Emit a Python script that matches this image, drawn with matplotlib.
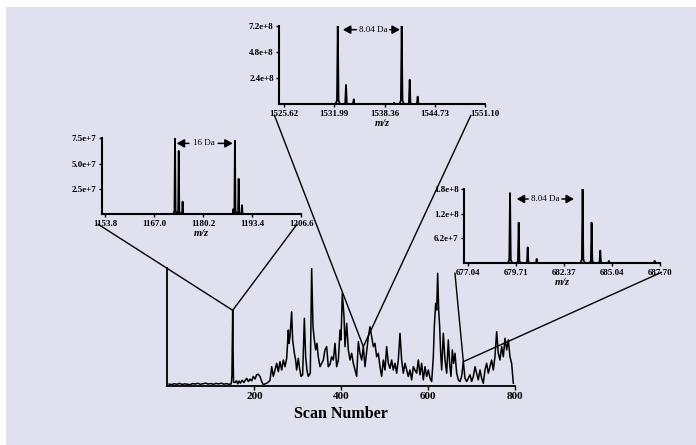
import numpy as np
import matplotlib
matplotlib.use('Agg')
import matplotlib.pyplot as plt
from matplotlib.patches import ConnectionPatch, Rectangle

plt.rcParams['font.family'] = ['Liberation Serif', 'DejaVu Serif']

# main chromatogram (relative intensity, tallest peak = 100)
scans = [4, 10, 16, 22, 28, 34, 40, 46, 52, 58, 64, 70, 76, 82, 88, 94, 100, 106, 112, 118,
         124, 130, 136, 142, 147, 148.5, 149.5, 150.3, 151.2, 152.2, 156, 159, 162, 165, 168,
         172, 176, 178.6, 182.4, 186.3, 190, 194, 197.7, 201.6, 205.4, 209.2, 213, 217, 220.7,
         224.6, 228.4, 232.2, 236, 239.9, 243.7, 251.4, 255.2, 259, 262.9, 266.7, 270.5, 274.4,
         278.2, 279.7, 282, 285.8, 288.1, 292, 295, 297.3, 301.2, 303.5, 307.3, 311.1, 315, 318,
         321, 324, 328.7, 331.8, 334.9, 338, 341, 344, 347, 351, 354.8, 358.6, 362.4, 366.3, 370,
         374, 377.8, 381.7, 385.5, 389.3, 393.2, 397, 399.3, 402.3, 406.2, 408.5, 412.3, 416.1,
         420, 423.8, 427.6, 431.5, 435.3, 439.1, 442.9, 446.8, 450.6, 454.4, 458.3, 462.1, 465.9,
         469.8, 473.6, 477.4, 481.2, 485.1, 488.9, 492.7, 496.6, 500.4, 504.2, 508, 511.9, 515.7,
         519.5, 523.4, 527.2, 531, 534.9, 538.7, 542.5, 546.4, 550.2, 554, 557.8, 561.7, 565.5,
         569.4, 573.2, 577, 580.9, 584.7, 588.5, 592.4, 596.2, 600, 603.9, 607.7, 611.5, 613.8,
         616.9, 619.2, 621.5, 623.8, 626.1, 628.4, 630.7, 634.5, 638.3, 642.2, 646, 649, 652.1,
         655.2, 658.3, 661.3, 665.2, 669, 672.8, 676.6, 680.5, 684.3, 688.1, 692, 695.8, 699.6,
         703.5, 707.3, 711.1, 714.9, 718.8, 722.6, 726.4, 730.3, 734.1, 737.9, 741.8, 745.6,
         749.4, 753.2, 757.1, 760.9, 764.7, 768.6, 772.4, 776.2, 780.1, 783.9, 787.7, 791.5,
         795.4]
tic = [1.2, 0.8, 1.5, 1.0, 1.8, 0.9, 1.4, 1.1, 0.7, 1.6, 1.2, 1.9, 1.0, 1.5, 2.0, 1.2, 1.7,
       1.0, 1.8, 1.3, 2.0, 1.1, 1.6, 1.0, 1.4, 8, 40, 64, 30, 3, 2.5, 4, 1.5, 3.8, 2, 4.5, 2.5,
       4.1, 6.1, 3.4, 5.4, 4.0, 7.7, 5.5, 9.1, 9.6, 7.7, 3.4, 0.6, 1.4, 1.9, 3.0, 4.3, 16, 7.7,
       18.9, 11.8, 20.3, 13.2, 21.7, 16, 23.1, 47.2, 35.9, 41.6, 62.8, 38.8, 27.5, 21.7, 13.2,
       23.1, 16, 7.7, 9.1, 57.2, 24.5, 13.2, 7.7, 10.5, 100, 50, 38.8, 30.3, 35.9, 24.5, 16,
       18.9, 21.7, 30.3, 33.1, 16, 18, 24.5, 21.7, 35.9, 16, 21.7, 47.2, 38.8, 78.4, 58.6, 33.1,
       52.9, 30.3, 21.7, 27.4, 18.9, 13.2, 7.7, 37.3, 27.4, 21.7, 33.1, 16, 28.8, 41.6, 50,
       41.6, 33.1, 35.9, 24.5, 27.4, 16, 7.7, 21.7, 13.2, 33.1, 18.9, 14.6, 21.7, 13.2, 18.9,
       10.5, 21.7, 44.4, 21.7, 10.5, 18.9, 13.2, 7.7, 13.2, 4.8, 16, 13, 10.5, 21.7, 9.1, 18.9,
       4.8, 16, 7.7, 13.2, 6.2, 3.4, 24.5, 50, 69.9, 64.2, 95.5, 64.2, 50, 27.4, 13.2, 44.4,
       21.7, 10.5, 38.8, 18.9, 7.7, 30.3, 18.9, 27.4, 10.5, 4.8, 3.4, 7.7, 20.3, 6.2, 3.4, 6.2,
       9.1, 3.4, 7.7, 16, 10.5, 4.8, 13.2, 6.2, 1.9, 13.2, 18.9, 10.5, 16, 21.7, 13.2, 24.5,
       45.8, 27.4, 21.7, 33.1, 24.5, 40.2, 30.3, 38.8, 24.5, 18.9, 1.9]
main_ticks = [200, 400, 600, 800]

# inset spectra: peak centres (m/z) and heights
left_mz = [1172.66, 1173.66, 1174.7, 1188.36, 1188.8, 1189.8, 1190.7]
left_int = [7.5e7, 6.25e7, 1.25e7, 0.5e7, 7.26e7, 3.5e7, 0.9e7]
left_ticks = [1153.8, 1167.0, 1180.2, 1193.4, 1206.6]
left_yticks = [2.5e7, 5.0e7, 7.5e7]
left_ylabels = ['2.5e+7', '5.0e+7', '7.5e+7']

top_mz = [1532.45, 1533.49, 1534.47, 1539.56, 1540.53, 1541.54, 1542.55]
top_int = [7.2e8, 1.78e8, 0.46e8, 0.15e8, 7.2e8, 2.26e8, 0.7e8]
top_ticks = [1525.62, 1531.99, 1538.36, 1544.73, 1551.10]
top_yticks = [2.4e8, 4.8e8, 7.2e8]
top_ylabels = ['2.4e+8', '4.8e+8', '7.2e+8']

right_mz = [679.39, 679.87, 680.37, 680.87, 683.42, 683.92, 684.40, 684.88, 687.42]
right_int = [1.70e8, 0.98e8, 0.38e8, 0.1e8, 1.8e8, 0.98e8, 0.3e8, 0.05e8, 0.05e8]
right_ticks = [677.04, 679.71, 682.37, 685.04, 687.70]
right_yticks = [6.2e7, 1.2e8, 1.8e8]
right_ylabels = ['6.2e+7', '1.2e+8', '1.8e+8']

zoom_scans = [150.3, 450.6, 680.5]

bg = '#e0e0ef'

fig = plt.figure(figsize=(6.96, 4.45), dpi=100)
fig.patch.set_facecolor('white')
fig.add_artist(Rectangle((6 / 696, 0), 1, 1 - 7 / 445, transform=fig.transFigure,
                         facecolor=bg, edgecolor='none', zorder=-10))

# main chromatogram
ax = fig.add_axes([0.2404, 0.1337, 0.5, 0.264])
ax.patch.set_alpha(0)
ax.plot(scans, tic, color='black', lw=1.1)
ax.set_xlim(0, 800)
ax.set_ylim(0, 100)
ax.set_yticks([])
ax.set_xticks(main_ticks)
ax.set_xticklabels([str(t) for t in main_ticks], fontsize=8, fontweight='bold')
ax.tick_params(axis='x', length=3, width=1, pad=2)
for s in ['top', 'right']:
    ax.spines[s].set_visible(False)
for s in ['left', 'bottom']:
    ax.spines[s].set_linewidth(1.3)
ax.set_xlabel('Scan Number', fontsize=11.5, fontweight='bold', labelpad=3)


def peak_profile(centres, heights, half):
    xs, ys = [], []
    for c, h in zip(centres, heights):
        xs += [c - half, c - half / 3, c, c + half / 3, c + half]
        ys += [0, 0.05 * h, h, 0.05 * h, 0]
    return xs, ys


def draw_inset(rect, mz, inten, xlim, xticks, ylim, yticks, ylabels, half, xfmt):
    a = fig.add_axes(rect)
    a.patch.set_alpha(0)
    order = np.argsort(mz)
    xs, ys = peak_profile(np.array(mz)[order], np.array(inten)[order], half)
    a.plot([xlim[0]] + xs + [xlim[1]], [0] + ys + [0], color='black', lw=1.3)
    a.set_xlim(*xlim)
    a.set_ylim(*ylim)
    a.set_xticks(xticks)
    a.set_xticklabels([xfmt.format(t) for t in xticks], fontsize=6.5, fontweight='bold')
    a.set_yticks(yticks)
    a.set_yticklabels(ylabels, fontsize=6.5, fontweight='bold')
    a.tick_params(length=2.5, width=1, pad=1.5)
    for s in ['top', 'right']:
        a.spines[s].set_visible(False)
    for s in ['left', 'bottom']:
        a.spines[s].set_linewidth(1.5)
    a.set_xlabel('m/z', fontsize=7.5, fontweight='bold', style='italic', labelpad=1)
    return a


def spacing_label(a, y, tip_l, start_l, text_x, start_r, tip_r, label):
    ap = dict(arrowstyle='-|>,head_length=0.45,head_width=0.25', lw=1.1, color='black',
              shrinkA=0, shrinkB=0)
    a.annotate('', xy=(tip_l, y), xytext=(start_l, y), arrowprops=ap)
    a.annotate('', xy=(tip_r, y), xytext=(start_r, y), arrowprops=ap)
    a.text(text_x, y, label, fontsize=6.5, ha='center', va='center')


ax_left = draw_inset([0.1466, 0.5184, 0.2859, 0.1708], left_mz, left_int, (1153.0, 1206.6),
                     left_ticks, (0, 7.5e7), left_yticks, left_ylabels, 0.45, '{:.1f}')
spacing_label(ax_left, 7.0e7, 1173.1, 1176.4, 1180.4, 1184.3, 1188.2, '16 Da')

ax_top = draw_inset([0.4013, 0.7656, 0.296, 0.176], top_mz, top_int, (1525.06, 1551.10),
                    top_ticks, (0, 7.2e8), top_yticks, top_ylabels, 0.3, '{:.2f}')
spacing_label(ax_top, 6.86e8, 1533.1, 1534.8, 1536.9, 1539.0, 1540.3, '8.04 Da')

ax_right = draw_inset([0.6671, 0.409, 0.2807, 0.1663], right_mz, right_int, (676.85, 687.70),
                      right_ticks, (0, 1.8e8), right_yticks, right_ylabels, 0.12, '{:.2f}')
spacing_label(ax_right, 1.557e8, 679.76, 680.40, 681.33, 682.27, 682.94, '8.04 Da')

# connector lines from each inset to its scan in the chromatogram
starts = [(ax_left, (-0.02, -0.13), (0.98, -0.13)),
          (ax_top, (-0.024, -0.137), (0.93, -0.14)),
          (ax_right, (-0.048, -0.135), (1.01, -0.125))]
for (a, pa, pb), sc in zip(starts, zoom_scans):
    yv = np.interp(sc, scans, tic)
    for p in (pa, pb):
        con = ConnectionPatch(xyA=p, coordsA=a.transAxes, xyB=(sc, yv), coordsB=ax.transData,
                              color='black', lw=1.0)
        fig.add_artist(con)

fig.savefig('out.png', dpi=100, facecolor=fig.get_facecolor())
